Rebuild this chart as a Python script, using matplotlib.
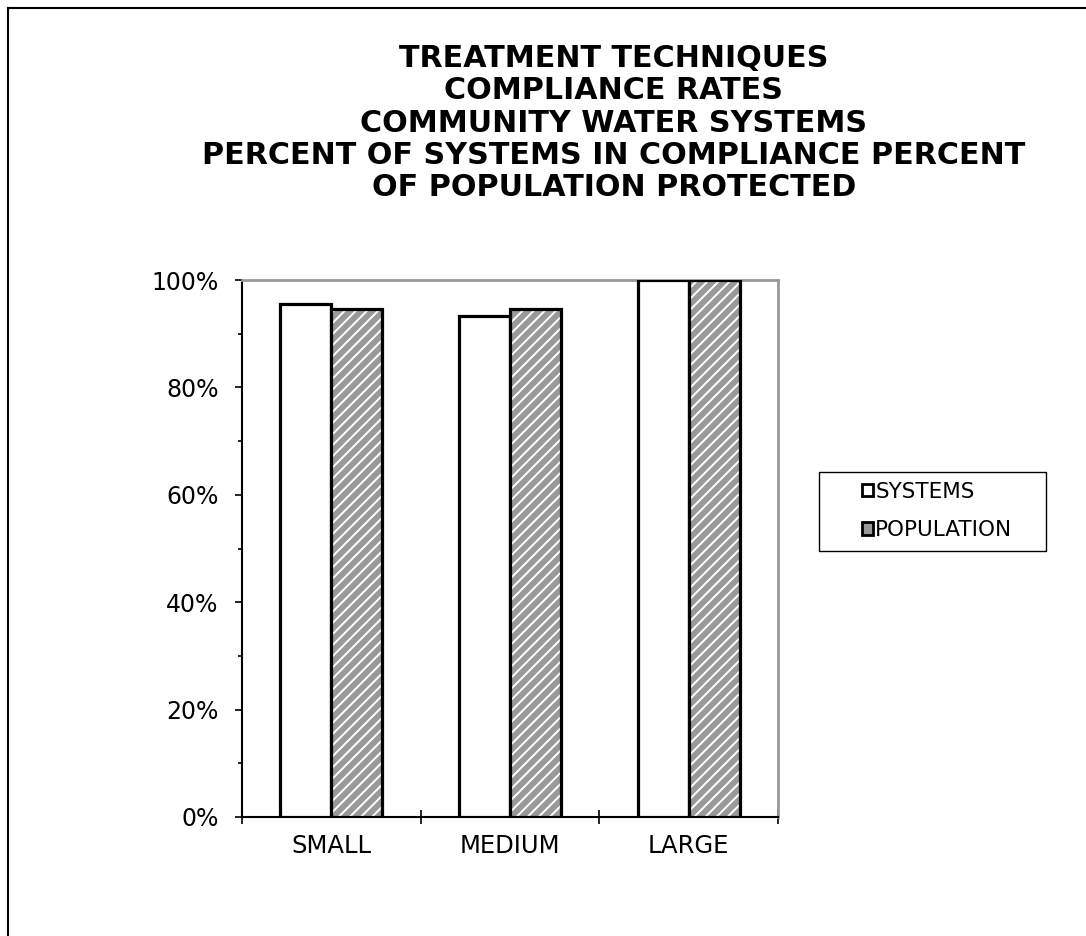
import matplotlib
matplotlib.use("Agg")
import matplotlib.pyplot as plt
from matplotlib.lines import Line2D
from matplotlib.patches import Patch, Rectangle
import numpy as np

categories = ["SMALL", "MEDIUM", "LARGE"]
systems = [95.5, 93.3, 100.0]
population = [94.6, 94.6, 100.0]
yticks = [0, 20, 40, 60, 80, 100]
ytick_labels = ["0%", "20%", "40%", "60%", "80%", "100%"]
title_lines = ["TREATMENT TECHNIQUES", "COMPLIANCE RATES", "COMMUNITY WATER SYSTEMS",
               "PERCENT OF SYSTEMS IN COMPLIANCE PERCENT", "OF POPULATION PROTECTED"]
legend_labels = ["SYSTEMS", "POPULATION"]

plt.rcParams['font.family'] = ['DejaVu Sans']
plt.rcParams['hatch.linewidth'] = 1.4

W, H = 1086, 936
fig = plt.figure(figsize=(W / 100, H / 100), dpi=100)
ax = fig.add_axes([242 / W, 1 - 817 / H, (778 - 242) / W, (817 - 280) / H])

x = np.arange(len(categories))
bw = 0.285
ax.bar(x - bw / 2, systems, bw, facecolor='white', edgecolor='black', linewidth=2.3, zorder=3)
ax.bar(x + bw / 2, population, bw, facecolor='#999999', edgecolor='white', hatch='///',
       linewidth=0, zorder=3)
ax.bar(x + bw / 2, population, bw, fill=False, edgecolor='black', linewidth=2.3, zorder=4)

ax.set_xlim(-0.5, len(categories) - 0.5)
ax.set_ylim(0, 100)
ax.set_yticks(yticks)
ax.set_yticklabels(ytick_labels, fontsize=17)
ax.set_yticks(np.arange(10, 100, 20), minor=True)
ax.tick_params(axis='y', which='major', direction='out', length=5, width=1.2, pad=12)
ax.tick_params(axis='y', which='minor', direction='out', length=3, width=1.2)

ax.set_xticks(np.arange(len(categories) + 1) - 0.5)
ax.set_xticklabels([])
ax.set_xticks(x, minor=True)
ax.set_xticklabels(categories, minor=True, fontsize=17.5)
ax.tick_params(axis='x', which='major', direction='inout', length=9.5, width=1.2)
ax.tick_params(axis='x', which='minor', length=0, pad=12)

for s in ['top', 'right']:
    ax.spines[s].set_color('#999999')
    ax.spines[s].set_linewidth(2)
for s in ['left', 'bottom']:
    ax.spines[s].set_color('black')
    ax.spines[s].set_linewidth(1.5)

baselines = [67, 99, 131.5, 163.75, 196]
for line, yb in zip(title_lines, baselines):
    fig.text(614 / W, 1 - yb / H, line, ha='center', va='baseline',
             fontsize=21.7, fontweight='bold')

# legend frame
fig.add_artist(Rectangle((819 / W, 1 - 551 / H), (1046 - 819) / W, (551 - 472) / H,
                         transform=fig.transFigure, facecolor='white', edgecolor='black',
                         linewidth=1.0, zorder=1))
handles = [Patch(facecolor='white', edgecolor='black', linewidth=2),
           Patch(facecolor='#999999', edgecolor='black', linewidth=2)]
leg = fig.legend(handles, legend_labels, loc='center left',
                 bbox_to_anchor=(862 / W, 1 - 511 / H), fontsize=15.5, frameon=False,
                 handlelength=0.5, handleheight=0.5, handletextpad=0.12,
                 labelspacing=0.85, borderpad=0, borderaxespad=0)
leg.set_zorder(2)

fig.add_artist(Line2D([8 / W, 1.0], [1 - 8 / H, 1 - 8 / H], color='black', lw=1.5,
                      transform=fig.transFigure))
fig.add_artist(Line2D([8 / W, 8 / W], [1 - 8 / H, 0.0], color='black', lw=1.5,
                      transform=fig.transFigure))

fig.savefig("out.png", dpi=100)
